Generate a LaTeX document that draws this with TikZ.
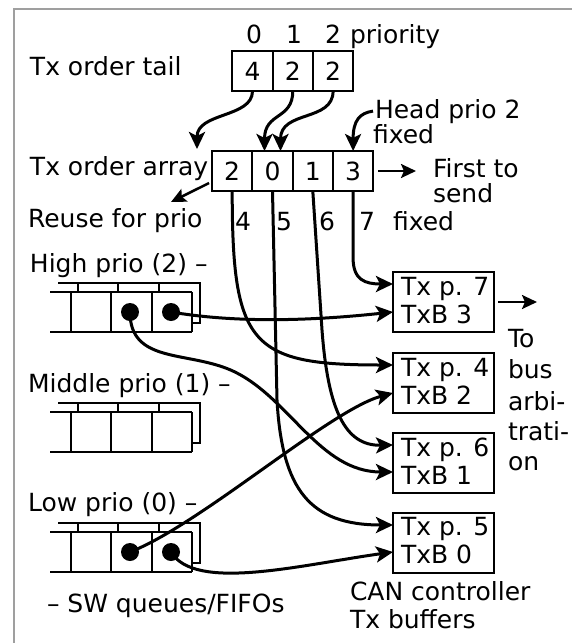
\documentclass[tikz,border=0pt]{standalone}
\usepackage{fontspec}
\setmainfont{DejaVu Sans}
\usetikzlibrary{arrows.meta}
\begin{document}
\begin{tikzpicture}[x=1pt,y=-1pt,
  every node/.style={inner sep=0pt, outer sep=0pt, font=\fontsize{25}{30}\selectfont},
  lbl/.style={anchor=base west},
  dig/.style={anchor=base},
  cell/.style={draw, line width=2pt, minimum width=40.3pt, minimum height=40pt, anchor=center},
  buf/.style={draw, line width=2pt, minimum width=101pt, minimum height=60pt},
  con/.style={line width=3pt, -{Stealth[length=17pt,width=16pt,inset=4pt]}},
  sarr/.style={line width=2.5pt, -{Stealth[length=15pt,width=14pt,inset=3pt]}},
  qline/.style={line width=2.7pt},
  dotn/.style={circle, fill=black, minimum size=18pt},
]
\useasboundingbox (0,0) rectangle (572,643);
% frame
\draw[gray!75, line width=1.5pt] (14,643) -- (14,9) -- (572,9);

% tail
\node[dig] (pr0) at (254,43) {0};
\node[dig] (pr1) at (294,43) {1};
\node[dig] (pr2) at (333,43) {2};
\node[lbl] (prio) at (350,43) {priority};
\node[lbl] (ttail) at (30,75) {Tx order tail};
\node[cell] (t0) at (252.5,71) {4};
\node[cell] (t1) at (292.8,71) {2};
\node[cell] (t2) at (333.1,71) {2};

% array
\node[lbl] (tarr) at (30,175) {Tx order array};
\node[cell] (a0) at (232.2,171) {2};
\node[cell] (a1) at (272.5,171) {0};
\node[cell] (a2) at (312.8,171) {1};
\node[cell] (a3) at (353.1,171) {3};
\node[lbl] (reuse) at (28,227) {Reuse for prio};
\node[lbl] (n4) at (235,230) {4};
\node[lbl] (n5) at (276,230) {5};
\node[lbl] (n6) at (319,230) {6};
\node[lbl] (n7) at (359,230) {7};
\node[lbl] (fx2) at (393,230) {fixed};
\node[lbl] (head) at (375,118) {Head prio 2};
\node[lbl] (fx1) at (373,143) {fixed};
\node[lbl] (first) at (433,177) {First to};
\node[lbl] (send) at (433,202) {send};

\coordinate (p0) at (197,149);
\coordinate (ru) at (171,202);
\coordinate (fs) at (416,171);
\coordinate (tb) at (537,302);

\draw[con] (t0.south) .. controls (252.5,118) and (197,112) .. (p0);
\draw[con] (t1.south) .. controls (292.8,120) and (264.5,112) .. ([xshift=-8pt]a1.north);
\draw[con] (t2.south) .. controls (333.1,122) and (280.5,110) .. ([xshift=8pt]a1.north);
\draw[con] ([xshift=-2pt]head.west) .. controls (360,113) and (353.1,120) .. (a3.north);
\draw[sarr] ([xshift=-3pt,yshift=-12pt]a0.west) -- (ru);
\draw[sarr] ([xshift=5pt]a3.east) -- (fs);

% queues
\foreach \T in {292,412,532} {
  \draw[qline] (50,\T) -- (192,\T) (50,\T+40) -- (192,\T+40);
  \foreach \x in {71,111,152,192} \draw[qline] (\x,\T) -- (\x,\T+40);
  \draw[qline] (58,\T-9) -- (200,\T-9) -- (200,\T+31) -- (192,\T+31);
  \foreach \x in {78,118,159} \draw[qline] (\x,\T-9) -- (\x,\T);
}
\node[lbl] (hp) at (30,272) {High prio (2) –};
\node[lbl] (mp) at (28,392) {Middle prio (1) –};
\node[lbl] (lp) at (28,511) {Low prio (0) –};
\node[lbl] (sw) at (47,612) {– SW queues/FIFOs};
\node[dotn] (h1) at (130,312) {};
\node[dotn] (h2) at (171,312) {};
\node[dotn] (l1) at (130,552) {};
\node[dotn] (l2) at (171,552) {};

% buffers
\node[buf] (bA) at (443.5,302) {};
\node[buf] (bB) at (443.5,383) {};
\node[buf] (bC) at (443.5,463) {};
\node[buf] (bD) at (443.5,542.5) {};
\node[lbl] (bA1) at (401,295) {Tx p. 7};
\node[lbl] (bA2) at (401,323) {TxB 3};
\node[lbl] (bB1) at (401,376) {Tx p. 4};
\node[lbl] (bB2) at (401,404) {TxB 2};
\node[lbl] (bC1) at (401,456) {Tx p. 6};
\node[lbl] (bC2) at (401,484) {TxB 1};
\node[lbl] (bD1) at (401,535) {Tx p. 5};
\node[lbl] (bD2) at (401,563) {TxB 0};
\node[lbl] (to1) at (508,347) {To};
\node[lbl] (to2) at (508,378) {bus};
\node[lbl] (to3) at (508,410) {arbi-};
\node[lbl] (to4) at (508,440) {trati-};
\node[lbl] (to5) at (508,470) {on};
\node[lbl] (can1) at (350,600) {CAN controller};
\node[lbl] (can2) at (350,628) {Tx buffers};
\draw[sarr] ([xshift=4pt]bA.east) -- (tb);

% connectors to buffers
\draw[con] (a3.south) -- (353.1,258) .. controls (353.1,280) and (365,284) .. ([yshift=18pt]bA.west);
\draw[con] (a0.south) .. controls (232.2,345) and (250,365) .. ([yshift=18pt]bB.west);
\draw[con] (a1.south) -- (277,400) .. controls (282,490) and (310,525) .. ([yshift=17.5pt]bD.west);
\draw[con] (a2.south) -- (322,330) .. controls (328,410) and (345,446) .. ([yshift=18pt]bC.west);
\draw[con] (h2.center) .. controls (230,322) and (300,322) .. ([yshift=-10pt]bA.west);
\draw[con] (h1.center) .. controls (130,365) and (190,350) .. (235,372) .. controls (290,399) and (320,472) .. ([yshift=-9pt]bC.west);
\draw[con] (l1.center) .. controls (200,525) and (330,410) .. ([yshift=-10pt]bB.west);
\draw[con] (l2.center) .. controls (195,592) and (300,565) .. ([yshift=-9.5pt]bD.west);
\end{tikzpicture}
\end{document}
